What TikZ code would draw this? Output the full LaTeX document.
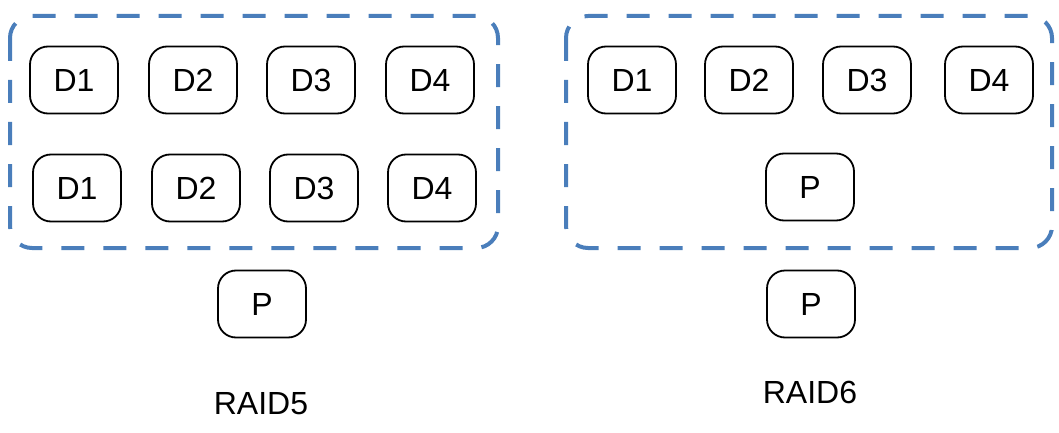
\documentclass[tikz,border=0pt]{standalone}
\usepackage{fontspec}
\setmainfont{Liberation Sans}
\definecolor{dashblue}{HTML}{4A7EBB}
\tikzset{
  disk/.style={draw=black, line width=1.8pt, rounded corners=18pt, minimum width=88pt, minimum height=67pt, inner sep=0pt, font=\fontsize{32}{38}\selectfont},
  group/.style={draw=dashblue, line width=4pt, dash pattern=on 23pt off 19pt, rounded corners=22pt},
  caption/.style={font=\fontsize{32}{38}\selectfont, inner sep=0pt}
}
\begin{document}
\begin{tikzpicture}[x=1pt,y=-1pt]
\useasboundingbox (0,0) rectangle (1059,433);
% RAID5
\draw[group] (10,16) rectangle (498,248);
\node[disk] (a1) at (74,80) {D1};
\node[disk] (a2) at (193,80) {D2};
\node[disk] (a3) at (311,80) {D3};
\node[disk] (a4) at (430,80) {D4};
\node[disk] (b1) at (77,188) {D1};
\node[disk] (b2) at (196,188) {D2};
\node[disk] (b3) at (314,188) {D3};
\node[disk] (b4) at (432,188) {D4};
\node[disk] (p5) at (262,304) {P};
\node[caption] (raid5) at (261,404) {RAID5};
% RAID6
\draw[group] (566,16) rectangle (1052,248);
\node[disk] (c1) at (632,80) {D1};
\node[disk] (c2) at (749,80) {D2};
\node[disk] (c3) at (867,80) {D3};
\node[disk] (c4) at (989,80) {D4};
\node[disk] (q1) at (810,187) {P};
\node[disk] (q2) at (811,304) {P};
\node[caption] (raid6) at (810,392) {RAID6};
\end{tikzpicture}
\end{document}
